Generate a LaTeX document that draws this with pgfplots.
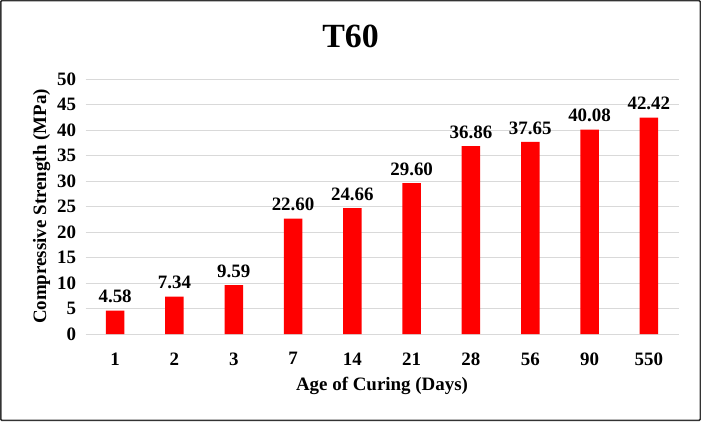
\documentclass[border=0pt]{standalone}
\usepackage{pgfplots}
\pgfplotsset{compat=1.18}
\usepackage{fontspec}
\setmainfont{Liberation Serif}
\definecolor{grid}{RGB}{217,217,217}
\definecolor{barred}{RGB}{255,0,0}
\begin{document}
\begin{tikzpicture}[x=1bp,y=1bp]
\useasboundingbox (0,0) rectangle (701,421);
\draw[line width=1.5bp, color=black!80, rounded corners=1bp] (0.75,0.75) rectangle (700.25,420.25);
\node[font=\fontsize{34}{40}\selectfont\bfseries] at (350.5,385) {T60};
\begin{axis}[
  at={(85.5bp,87bp)}, anchor=south west,
  scale only axis, width=593bp, height=255bp,
  xmin=-0.5, xmax=9.5, ymin=0, ymax=50,
  ytick={0,5,...,50},
  xtick={0,...,9},
  xticklabels={1,2,3,7,14,21,28,56,90,550},
  axis line style={draw=none},
  major tick length=0pt,
  ymajorgrids, grid style={draw=grid, line width=0.8bp},
  ticklabel style={font=\fontsize{19}{22}\selectfont\bfseries},
  /pgf/number format/assume math mode=true,
  yticklabel style={xshift=-6bp},
  xticklabel style={yshift=-15bp},
  xlabel={Age of Curing (Days)},
  ylabel={Compressive Strength (MPa)},
  xlabel style={font=\fontsize{19}{22}\selectfont\bfseries, yshift=-5bp},
  ylabel style={font=\fontsize{19}{22}\selectfont\bfseries, yshift=0bp},
  nodes near coords,
  nodes near coords style={font=\fontsize{19}{22}\selectfont\bfseries, /pgf/number format/fixed, /pgf/number format/fixed zerofill, /pgf/number format/precision=2, /pgf/number format/assume math mode=true, yshift=4bp},
]
\addplot[ybar, bar width=18.5bp, fill=barred, draw=none] coordinates {
(0,4.58) (1,7.34) (2,9.59) (3,22.60) (4,24.66) (5,29.60) (6,36.86) (7,37.65) (8,40.08) (9,42.42)
};
\end{axis}
\end{tikzpicture}
\end{document}
